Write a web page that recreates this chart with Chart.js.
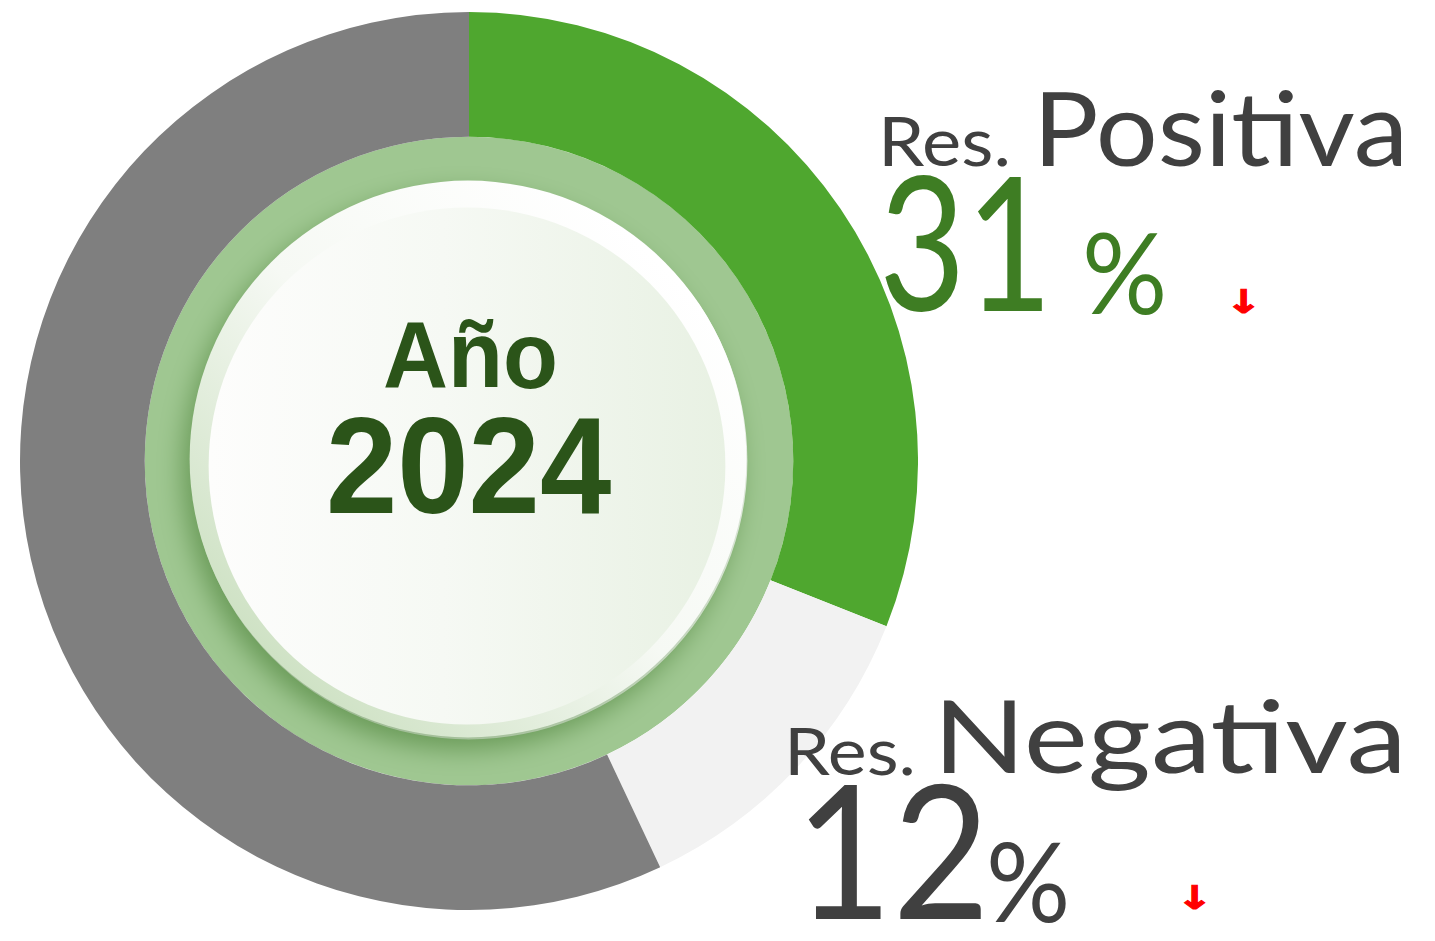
<!DOCTYPE html>
<html lang="es">
<head>
<meta charset="utf-8">
<title>Resultados 2024</title>
<script src="https://cdn.jsdelivr.net/npm/chart.js@4.4.1/dist/chart.umd.min.js"></script>
<style>
  html, body { margin: 0; padding: 0; background: #fff; overflow: hidden; }
  body { width: 1435px; height: 941px; position: relative; }
  #wrap { position: absolute; left: 20px; top: 12px; width: 898px; height: 898px; }
  .lbl { position: absolute; white-space: nowrap; transform-origin: 0 0; }
</style>
</head>
<body>
<div id="wrap"><canvas id="dona"></canvas></div>
<script>
// datos
const categories = ['Res. Positiva', 'Res. Negativa', 'Otras'];
const values = [31, 12, 57];
const colors = ['#4fa72f', '#f2f2f2', '#7f7f7f'];
const year = '2024';

// disco blanco del centro, con sombra sobre el anillo verde
const centerDisc = {
  id: 'centerDisc',
  afterDatasetsDraw(chart) {
    const arc = chart.getDatasetMeta(1).data[0];
    const {x, y, innerRadius} = arc.getProps(['x', 'y', 'innerRadius'], true);
    const r = innerRadius;
    const ctx = chart.ctx;

    ctx.save();
    ctx.shadowColor = 'rgba(70,125,50,0.6)';
    ctx.shadowBlur = 26;
    ctx.shadowOffsetX = -7;
    ctx.shadowOffsetY = 12;
    let g = ctx.createLinearGradient(x + r * 0.7, y - r * 0.7, x - r * 0.7, y + r * 0.7);
    g.addColorStop(0, '#ffffff');
    g.addColorStop(0.5, '#f6f9f4');
    g.addColorStop(1, '#cfe2c5');
    ctx.fillStyle = g;
    ctx.beginPath();
    ctx.arc(x - 1, y - 2, r, 0, Math.PI * 2);
    ctx.fill();
    ctx.restore();

    const r2 = r - 20;
    ctx.save();
    g = ctx.createLinearGradient(x - r2, y, x + r2, y);
    g.addColorStop(0, '#fdfdfc');
    g.addColorStop(0.45, '#f6f9f4');
    g.addColorStop(1, '#e8f1e3');
    ctx.fillStyle = g;
    ctx.beginPath();
    ctx.arc(x - 2, y + 5, r2, 0, Math.PI * 2);
    ctx.fill();
    ctx.restore();
  }
};

new Chart(document.getElementById('dona'), {
  type: 'doughnut',
  data: {
    labels: categories,
    datasets: [{
      data: values,
      backgroundColor: colors,
      borderWidth: 0,
      hoverOffset: 0,
      weight: 125
    }, {
      data: [1],
      backgroundColor: ['#9fc791'],
      borderWidth: 0,
      hoverOffset: 0,
      weight: 46
    }]
  },
  options: {
    responsive: true,
    maintainAspectRatio: false,
    animation: false,
    events: [],
    cutout: '62%',
    plugins: {
      legend: { display: false },
      tooltip: { enabled: false }
    }
  },
  plugins: [centerDisc]
});

// textos: se ajustan a la caja de tinta medida en el original
const meas = document.createElement('canvas').getContext('2d');
function place(text, font, color, x0, x1, y0, y1, ref, stroke) {
  meas.font = font;
  const m = meas.measureText(text);
  const sx = (x1 - x0) / (m.actualBoundingBoxLeft + m.actualBoundingBoxRight);
  let sy, base;
  if (ref) {
    const mr = meas.measureText(ref);
    sy = (y1 - y0) / mr.actualBoundingBoxAscent;
    base = y1;
  } else {
    sy = (y1 - y0) / (m.actualBoundingBoxAscent + m.actualBoundingBoxDescent);
    base = y0 + m.actualBoundingBoxAscent * sy;
  }
  const el = document.createElement('div');
  el.className = 'lbl';
  el.style.font = font;
  el.style.lineHeight = '1';
  el.style.color = color;
  if (stroke) el.style.webkitTextStroke = stroke + 'px ' + color;
  el.textContent = text;
  const mark = document.createElement('span');
  mark.style.cssText = 'display:inline-block;width:0;height:0;';
  el.appendChild(mark);
  document.body.appendChild(el);
  el.style.left = (x0 + m.actualBoundingBoxLeft * sx) + 'px';
  el.style.top = (base - mark.offsetTop * sy) + 'px';
  el.style.transform = 'scale(' + sx + ',' + sy + ')';
}

const [preP, nameP] = categories[0].split(' ');
const [preN, nameN] = categories[1].split(' ');
const gray = '#404040';
const green = '#3e7d23';
const dark = '#2b5419';

place('Año', 'bold 88px "Liberation Sans"', dark, 385, 555, 324, 388, 'A');
place(year, 'bold 128px "Liberation Sans"', dark, 330, 611, 417, 514);

place(preP, '400 69px Lato', gray, 884, 1007, 117, 166, 'R');
place(nameP, '400 103px Lato', gray, 1043, 1402, 92, 166, 'P');
place(String(values[0]), '400 187px Lato', green, 885, 1042, 177, 311, '1');
place('%', '400 112px Lato', green, 1086, 1163, 231, 315);
place('↓', 'bold 30px "DejaVu Sans"', '#ff0000', 1232, 1254, 289, 314, null, 1);

place(preN, '400 69px Lato', gray, 790, 912, 727, 775, 'R');
place(nameN, '400 103px Lato', gray, 944, 1400, 700, 773, 'N');
place(String(values[1]), '400 187px Lato', gray, 808, 981, 786, 919, '1');
place('%', '400 112px Lato', gray, 990, 1066, 841, 923);
place('↓', 'bold 30px "DejaVu Sans"', '#ff0000', 1183, 1205, 885, 910, null, 1);
</script>
</body>
</html>
